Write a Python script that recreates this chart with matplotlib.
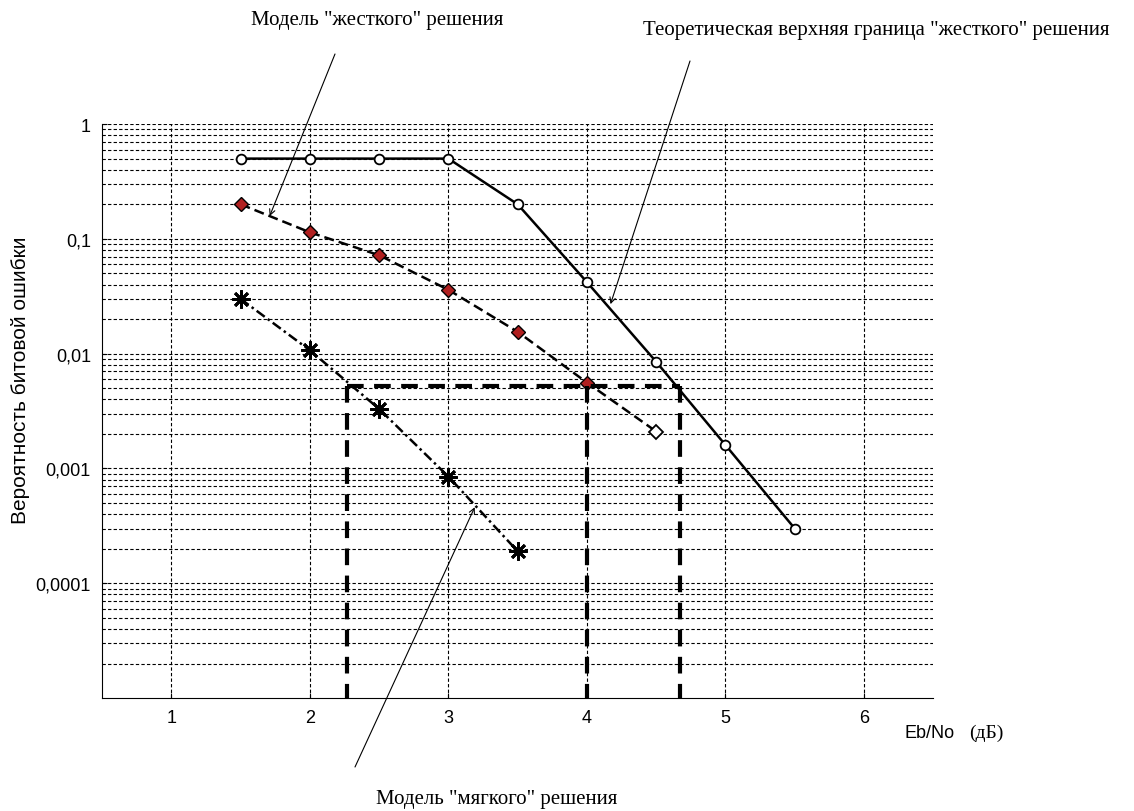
import numpy as np
import matplotlib.pyplot as plt
from matplotlib.ticker import FixedLocator, LogLocator, NullFormatter

# === Data ===
ebno = [1.5, 2.0, 2.5, 3.0, 3.5, 4.0, 4.5, 5.0, 5.5]
ber_hard_theory = [0.5, 0.5, 0.5, 0.5, 0.2, 0.042, 0.0085, 0.0016, 0.0003]

ebno_hard = [1.5, 2.0, 2.5, 3.0, 3.5, 4.0, 4.5]
ber_hard_model = [0.2, 0.114, 0.072, 0.036, 0.0155, 0.0056, 0.0021]

ebno_soft = [1.5, 2.0, 2.5, 3.0, 3.5]
ber_soft_model = [0.03, 0.0107, 0.0033, 0.00085, 0.00019]

# reference level and crossing points (thick dashed guide)
ber_ref = 0.0052
x_soft, x_hard, x_theory = 2.27, 4.0, 4.67

yticks = [1e-4, 1e-3, 1e-2, 1e-1, 1]
ytick_labels = ["0,0001", "0,001", "0,01", "0,1", "1"]
xticks = [1, 2, 3, 4, 5, 6]

serif = "Liberation Serif"
sans = "Liberation Sans"

fig = plt.figure(figsize=(11.34, 8.12), dpi=100)
ax = fig.add_axes([0.09, 0.139, 0.733, 0.707])
ax.set_yscale("log")
ax.set_xlim(0.5, 6.5)
ax.set_ylim(1e-5, 1)

# grid
grid_kw = dict(color="black", linewidth=0.8, linestyle=(0, (3, 2)))
ax.yaxis.set_major_locator(FixedLocator(yticks))
ax.yaxis.set_minor_locator(LogLocator(base=10, subs=np.arange(2, 10)))
ax.yaxis.set_minor_formatter(NullFormatter())
ax.set_yticklabels(ytick_labels)
ax.set_xticks(xticks)
ax.grid(True, which="major", axis="both", **grid_kw)
ax.grid(True, which="minor", axis="y", **grid_kw)
ax.set_axisbelow(True)

for s in ["top", "right"]:
    ax.spines[s].set_visible(False)
ax.tick_params(axis="both", which="both", direction="in", labelsize=13, pad=8)
ax.tick_params(axis="y", which="minor", length=0)
for lbl in ax.get_xticklabels() + ax.get_yticklabels():
    lbl.set_fontfamily(sans)

# curves
ax.plot(ebno, ber_hard_theory, color="black", linewidth=1.8, marker="o",
        markersize=7, markerfacecolor="white", markeredgewidth=1.3, zorder=4)
ax.plot(ebno_hard, ber_hard_model, color="black", linewidth=1.8,
        linestyle=(0, (4, 2)), marker="D", markersize=7,
        markerfacecolor="#b02020", markeredgecolor="black",
        markevery=list(range(len(ebno_hard) - 1)), zorder=4)
ax.plot(ebno_hard[-1:], ber_hard_model[-1:], linestyle="none", marker="D",
        markersize=7, markerfacecolor="white", markeredgecolor="black",
        markeredgewidth=1.3, zorder=4)
ax.plot(ebno_soft, ber_soft_model, color="black", linewidth=1.8,
        linestyle=(0, (4, 1.5, 1, 1.5)), marker=(8, 2, 0), markersize=13,
        markeredgewidth=2, zorder=4)

# thick dashed guide lines
thick = dict(color="black", linewidth=3, linestyle=(0, (4, 2.5)), zorder=5)
ax.plot([x_soft, x_theory], [ber_ref, ber_ref], **thick)
for xv in [x_soft, x_hard, x_theory]:
    ax.plot([xv, xv], [ber_ref, 1e-5], **thick)

# annotation arrows (tails in figure pixels)
arrow = dict(arrowstyle="->", color="black", linewidth=0.8, shrinkA=0, shrinkB=0)
ax.annotate("", xy=(1.71, 0.158), xytext=(335, 757), textcoords="figure pixels",
            arrowprops=arrow, annotation_clip=False)
ax.annotate("", xy=(4.17, 0.027), xytext=(690, 750), textcoords="figure pixels",
            arrowprops=arrow, annotation_clip=False)
ax.annotate("", xy=(3.19, 0.00046), xytext=(355, 44), textcoords="figure pixels",
            arrowprops=arrow, annotation_clip=False)

fig.text(0.333, 0.975, 'Модель "жесткого" решения', fontsize=15, family=serif,
         ha="center", va="center")
fig.text(0.773, 0.962, 'Теоретическая верхняя граница "жесткого" решения',
         fontsize=15, family=serif, ha="center", va="center")
fig.text(0.438, 0.015, 'Модель "мягкого" решения', fontsize=15, family=serif,
         ha="center", va="center")

fig.text(0.018, 0.532, "Вероятность битовой ошибки", rotation=90, fontsize=15,
         family=sans, ha="center", va="center")
fig.text(0.798, 0.097, "Eb/No", fontsize=13, family=sans, ha="left", va="center")
fig.text(0.855, 0.097, "(дБ)", fontsize=14, family=serif, ha="left", va="center")

fig.savefig("out.png", dpi=100)
